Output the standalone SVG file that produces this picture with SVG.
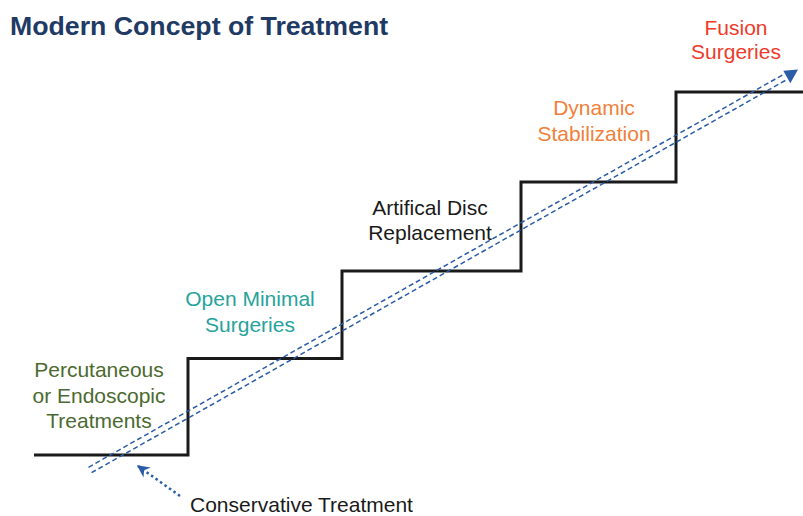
<svg xmlns="http://www.w3.org/2000/svg" width="803" height="516" viewBox="0 0 803 516">
  <style>
    .lbl { font-family: "Liberation Sans", Arial, sans-serif; font-size: 21px; text-anchor: middle; }
    .title { font-family: "Liberation Sans", Arial, sans-serif; font-size: 26.7px; font-weight: bold; fill: #1f3a64; }
    .stair { fill: none; stroke: #1a1a1a; stroke-width: 3; stroke-linejoin: miter; }
    .rail { stroke: #2a5ca8; stroke-width: 1.5; stroke-dasharray: 5 3; fill: none; }
    .dots { stroke: #2a5ca8; stroke-width: 2.5; stroke-dasharray: 2.5 3; fill: none; }
  </style>
  <defs>
    <marker id="dotHead" viewBox="0 0 10 10" refX="9" refY="5" markerWidth="5" markerHeight="5" markerUnits="strokeWidth" orient="auto">
      <path d="M0,0 L10,5 L0,10 L3,5 Z" fill="#2a5ca8"/>
    </marker>
  </defs>

  <rect width="803" height="516" fill="#ffffff"/>

  <text class="title" x="10" y="35">Modern Concept of Treatment</text>

  <!-- staircase -->
  <g id="stairs">
    <path class="stair" d="M34,455 H188 V358.5 H342 V271 H521 V182 H676 V92 H803"/>
  </g>

  <!-- connectors -->
  <g id="connectors">
    <line class="rail" x1="88.5" y1="467.3" x2="783.7" y2="74.3"/>
    <line class="rail" x1="91.5" y1="472.7" x2="786.7" y2="79.7"/>
    <path d="M798,69.5 L783.3,70.8 L790.3,83.2 Z" fill="#2a5ca8"/>
    <line class="dots" x1="180" y1="496" x2="138" y2="466" marker-end="url(#dotHead)"/>
  </g>

  <g id="percutaneous">
    <text class="lbl" fill="#4b6a2f" x="99" y="377">Percutaneous</text>
    <text class="lbl" fill="#4b6a2f" x="99" y="403">or Endoscopic</text>
    <text class="lbl" fill="#4b6a2f" x="99" y="428">Treatments</text>
  </g>
  <g id="open-minimal">
    <text class="lbl" fill="#26a39b" x="250" y="306">Open Minimal</text>
    <text class="lbl" fill="#26a39b" x="250" y="332">Surgeries</text>
  </g>
  <g id="disc-replacement">
    <text class="lbl" fill="#1a1a1a" x="430" y="215">Artifical Disc</text>
    <text class="lbl" fill="#1a1a1a" x="430" y="240">Replacement</text>
  </g>
  <g id="dynamic">
    <text class="lbl" fill="#f0803a" x="594" y="115">Dynamic</text>
    <text class="lbl" fill="#f0803a" x="594" y="141">Stabilization</text>
  </g>
  <g id="fusion">
    <text class="lbl" fill="#ee3b2b" x="736" y="35">Fusion</text>
    <text class="lbl" fill="#ee3b2b" x="736" y="59">Surgeries</text>
  </g>
  <g id="conservative">
    <text class="lbl" fill="#1a1a1a" x="190" y="512" style="text-anchor:start">Conservative Treatment</text>
  </g>
</svg>
